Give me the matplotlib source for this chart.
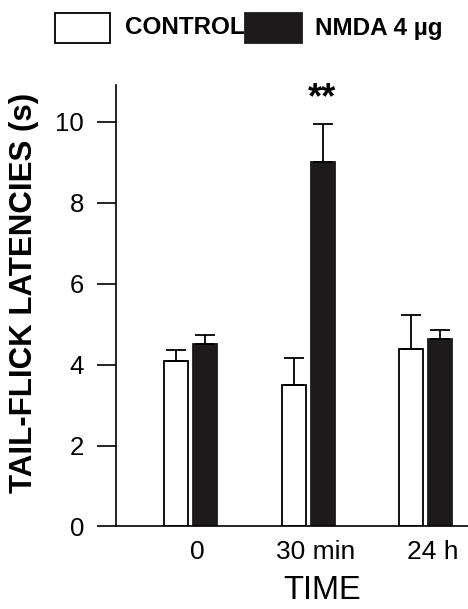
import matplotlib.pyplot as plt
import numpy as np

plt.rcParams['font.family'] = ['Liberation Sans', 'DejaVu Sans']

# datos
grupos = ['0', '30 min', '24 h']
control = [4.08, 3.50, 4.39]
control_err = [0.28, 0.66, 0.84]
nmda = [4.50, 9.01, 4.63]
nmda_err = [0.24, 0.94, 0.23]

x = np.arange(len(grupos))
ancho = 0.205

fig = plt.figure(figsize=(4.68, 6.09), dpi=100)
ax = fig.add_axes([0.248, 0.1355, 0.752, 0.7245])

ax.bar(x - 0.123, control, ancho, color='white', edgecolor='black', linewidth=1.3,
       yerr=[np.zeros(3), control_err], capsize=7, error_kw=dict(elinewidth=1.3, capthick=1.3))
ax.bar(x + 0.123, nmda, ancho, color='#1c1a1a', edgecolor='#1c1a1a', linewidth=1.3,
       yerr=[np.zeros(3), nmda_err], capsize=7.5, error_kw=dict(elinewidth=1.3, capthick=1.3))

ax.text(x[1] + 0.12, 10.58, '**', ha='center', va='center', fontsize=26, fontweight='bold')

ax.set_xlim(-0.634, 2.36)
ax.set_ylim(0, 10.9)
ax.set_yticks([0, 2, 4, 6, 8, 10])
ax.set_xticks(x + 0.06)
ax.set_xticklabels(grupos)
ax.tick_params(axis='y', direction='out', length=14, width=1.2, labelsize=18.5, pad=9)
ax.tick_params(axis='x', length=0, labelsize=19, pad=10)
for s in ['top', 'right']:
    ax.spines[s].set_visible(False)
ax.spines['left'].set_linewidth(1.2)
ax.spines['bottom'].set_linewidth(1.2)

ax.set_ylabel('TAIL-FLICK LATENCIES (s)', fontsize=22.5, fontweight='bold', va='center')
ax.yaxis.set_label_coords(-0.261, 0.53)
ax.set_xlabel('TIME', fontsize=23.5, va='center')
ax.xaxis.set_label_coords(0.585, -0.146)

# leyenda dibujada a mano arriba
fig.patches.append(plt.Rectangle((55 / 468, 1 - 43 / 609), 55 / 468, 30 / 609,
                                 transform=fig.transFigure, facecolor='white',
                                 edgecolor='black', linewidth=1.3))
fig.patches.append(plt.Rectangle((245 / 468, 1 - 43 / 609), 57 / 468, 30 / 609,
                                 transform=fig.transFigure, facecolor='#1c1a1a',
                                 edgecolor='#1c1a1a', linewidth=1.3))
fig.text(125 / 468, 1 - 28 / 609, 'CONTROL', ha='left', va='center', fontsize=17.5, fontweight='bold')
fig.text(315 / 468, 1 - 28 / 609, 'NMDA 4 µg', ha='left', va='center', fontsize=17.5, fontweight='bold')

fig.savefig('out.png', dpi=100)
